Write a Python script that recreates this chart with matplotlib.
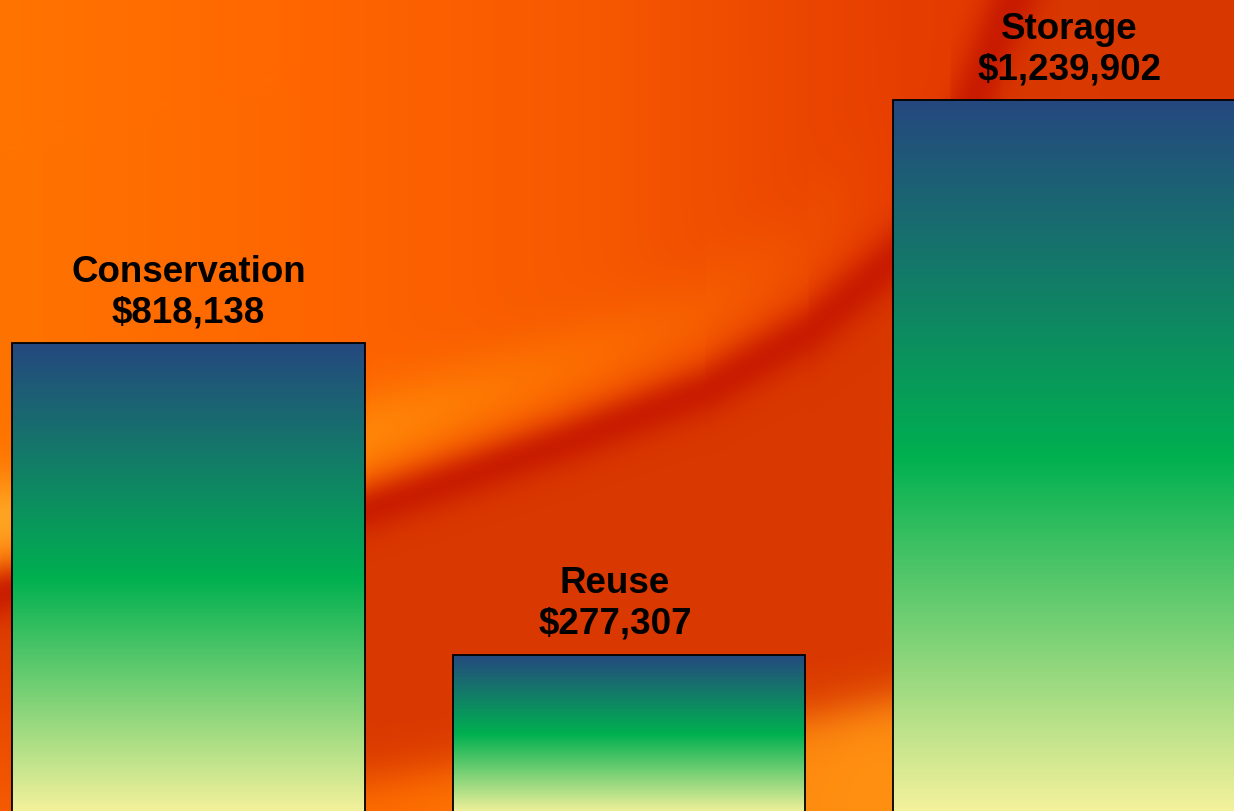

# Water program costs - gradient bars on a warm background
import numpy as np
import matplotlib
matplotlib.use("Agg")
import matplotlib.pyplot as plt
import matplotlib.colors as mcolors

# data
categories = ["Conservation", "Reuse", "Storage"]
costs = [818138, 277307, 1239902]

# small horizontal nudges of the labels (points), as in the original slide
label_dx = [0, -10, 0]

plt.rcParams['font.family'] = ['Liberation Sans', 'DejaVu Sans']


def rgb(c):
    return np.array(mcolors.to_rgb(c))


def interp_colors(t, stops, cols):
    # interpolate a list of colours along t (any shape)
    arr = np.array([mcolors.to_rgb(c) for c in cols])
    return np.stack([np.interp(t, stops, arr[:, i]) for i in range(3)], axis=-1)


def mix(a, b, w):
    return a * (1 - w[..., None]) + b * w[..., None]


def make_background(H=812, W=1234):
    # orange "glow" texture with a dark red arc across it
    yy, xx = np.mgrid[0:H, 0:W].astype(float)

    upper = interp_colors(xx, [0, 300, 600, 900, 1234],
                          ['#ff7400', '#ff6600', '#f65800', '#e63e00', '#dc3400'])
    lower = np.broadcast_to(rgb('#d93800'), (H, W, 3)).copy()
    lw = np.clip(1 - xx / 380, 0, 1) * np.clip((yy - 600) / 212, 0, 1)
    lower = mix(lower, np.broadcast_to(rgb('#f65a00'), (H, W, 3)), lw)

    # dark arc (path of the red ridge)
    arc_x = [-100, 5, 370, 567, 705, 808, 891, 950, 1000, 1060]
    arc_y = [625, 593, 510, 443, 392, 333, 262, 160, 30, -100]
    xs = np.arange(W, dtype=float)
    yc = np.interp(xs, arc_x, arc_y)
    cosang = 1 / np.sqrt(1 + np.gradient(yc) ** 2)
    d1 = (yy - yc[None, :]) * cosang[None, :]

    img = mix(upper, lower, 1 / (1 + np.exp(-d1 / 12)))

    # bright band just above the arc
    fade = np.interp(xx, [0, 400, 700, 900], [1, 0.85, 0.45, 0.0])
    wb = np.exp(-((d1 + 72) / 42) ** 2) * fade
    bright = interp_colors(xx, [0, 370, 600, 900], ['#ffa422', '#ff8a08', '#ff7600', '#f86000'])
    img = mix(img, bright, wb)

    # dark red core
    wr = np.exp(-(d1 / 26) ** 2) * 0.9
    img = mix(img, np.broadcast_to(rgb('#c61800'), (H, W, 3)), wr)

    # second light band near the bottom
    b2x = [0, 380, 450, 820, 890, 1234]
    b2y = [840, 778, 768, 715, 700, 660]
    d2 = yy - np.interp(xx, b2x, b2y)
    w2 = 1 / (1 + np.exp(-d2 / 14))
    low_bright = interp_colors(xx, [0, 400, 860, 1234], ['#f86000', '#ff7000', '#ff9012', '#ff9012'])
    img = mix(img, low_bright, w2)
    return np.clip(img, 0, 1)


fig = plt.figure(figsize=(12.34, 8.12), dpi=100)

# background picture
bg = fig.add_axes([0, 0, 1, 1])
bg.imshow(make_background(), aspect='auto')
bg.axis('off')

ax = fig.add_axes([0, 0, 1, 1])
ax.patch.set_alpha(0)

grad_cmap = mcolors.LinearSegmentedColormap.from_list(
    'fill', ['#25487f', '#00b050', '#f6f29c'])
gradient = np.linspace(0, 1, 256).reshape(-1, 1)

x = np.arange(len(categories))
bars = ax.bar(x, costs, width=0.8, facecolor='none', edgecolor='black',
              linewidth=1.3, zorder=3)

for bar, name, val, dx in zip(bars, categories, costs, label_dx):
    x0 = bar.get_x()
    x1 = x0 + bar.get_width()
    im = ax.imshow(gradient, cmap=grad_cmap, aspect='auto', origin='upper',
                   extent=[x0, x1, 0, val], zorder=2)
    im.set_clip_path(bar)
    ax.annotate(f"{name}\n${val:,.0f}", xy=(bar.get_x() + bar.get_width() / 2, val),
                xytext=(dx, 10), textcoords='offset points', ha='center', va='bottom',
                fontsize=26.5, fontweight='bold', color='black', zorder=4)

# baseline sits a few pixels below the bottom edge
ax.set_xlim(-0.428, 2.3735)
ax.set_ylim(5730, 1415100)
ax.axis('off')

fig.savefig("out.png", dpi=100)
